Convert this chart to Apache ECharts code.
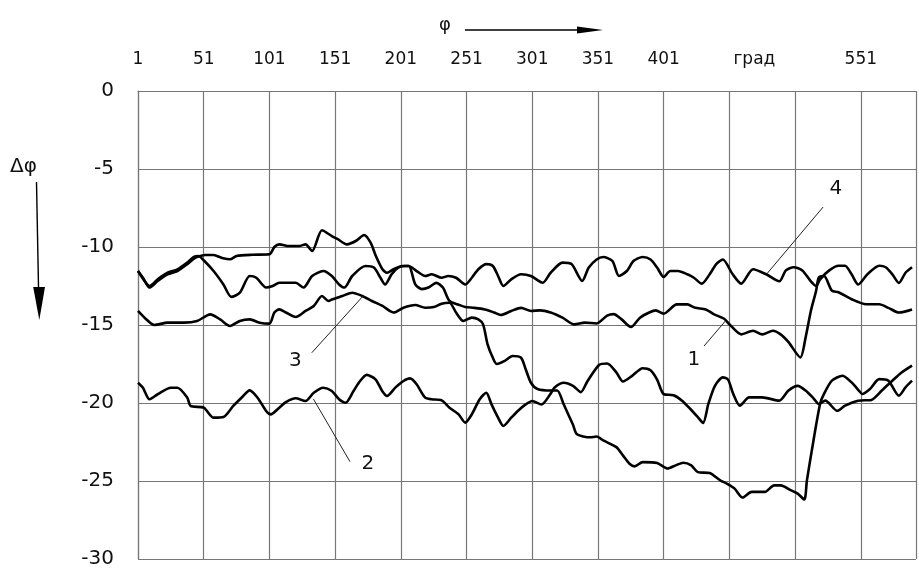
<!DOCTYPE html>
<html>
<head>
<meta charset="utf-8">
<script src="https://cdn.jsdelivr.net/npm/echarts@6/dist/echarts.min.js"></script>
<style>
  html, body { margin: 0; background: #fff; }
  #chart { width: 919px; height: 569px; }
</style>
</head>
<body>
<div id="chart"></div>
<script>
// x: φ, град ; y: Δφ
const xLabelValues = [1, 51, 101, 151, 201, 251, 301, 351, 401, 551];
const unitLabel = 'град'; // stands in place of the 451 label
const unitAt = 451;

const curve1 = [
  [1,-11.54],[4.75,-11.97],[9.75,-12.6],[16,-12.18],[23.5,-11.75],[31,-11.54],[38.5,-11.1],[44.75,-10.68],
  [48.5,-10.58],[52,-10.51],[58.5,-10.51],[65,-10.7],[71,-10.79],[76,-10.58],[88,-10.5],[101,-10.47],
  [104.75,-10.0],[108.5,-9.83],[116,-9.94],[123.5,-9.94],[128.5,-9.83],[133.5,-10.26],[141,-8.93],[148.5,-9.3],
  [153,-9.5],[160,-9.83],[167,-9.6],[173,-9.23],[178,-9.72],[182,-10.58],[187,-11.43],[190.5,-11.65],
  [195.5,-11.43],[202,-11.22],[207,-11.22],[212,-12.4],[217,-12.7],[222,-12.6],[228,-12.3],[233,-12.6],
  [238,-13.46],[245,-13.7],[250,-13.85],[257,-13.9],[265,-14.0],[272,-14.2],[277,-14.36],[285,-14.1],
  [292.5,-13.9],[300,-14.1],[307,-14.06],[315,-14.2],[324,-14.53],[333,-14.96],[341,-14.85],[350,-14.9],
  [358,-14.4],[363,-14.3],[369,-14.64],[376,-15.13],[383,-14.53],[390,-14.2],[395,-14.06],[401,-14.27],
  [411,-13.68],[419,-13.68],[425,-13.9],[433,-14.0],[439,-14.3],[447,-14.6],[451,-14.95],[460,-15.6],
  [469,-15.37],[476,-15.6],[484,-15.37],[490,-15.6],[496,-16.1],[505,-17.08],[509,-15.8],[513,-14.1],
  [517,-12.8],[519,-11.96],[523,-11.86],[529,-12.8],[534,-12.9],[544,-13.35],[555,-13.67],[565,-13.67],
  [572,-13.9],[580,-14.2],[590,-14.0]
];

const curve2 = [
  [1,-18.7],[4.75,-19.02],[9.75,-19.76],[16,-19.44],[26,-19.02],[31,-19.02],[38.5,-19.66],[41,-20.19],
  [51,-20.3],[58.5,-20.94],[66,-20.9],[73.5,-20.19],[79.75,-19.66],[86,-19.19],[92,-19.66],[98.5,-20.51],
  [102,-20.73],[108.5,-20.3],[113.5,-19.94],[121,-19.7],[128.5,-19.87],[134.75,-19.34],[142,-19.02],[148.5,-19.23],
  [154,-19.76],[159,-19.98],[165,-19.23],[170,-18.59],[175,-18.2],[181.7,-18.48],[186.8,-19.23],[190.5,-19.55],
  [197,-19.0],[203,-18.59],[208,-18.42],[213,-18.8],[219.5,-19.66],[224.5,-19.76],[232,-19.83],[238,-20.3],
  [245,-20.73],[250,-21.26],[255,-20.73],[261,-19.76],[266,-19.34],[270,-20.09],[275,-20.94],[279,-21.47],
  [285,-20.94],[290,-20.51],[296,-20.09],[301,-19.87],[308,-20.1],[315,-19.4],[318,-19.0],[325,-18.7],
  [332,-18.9],[338,-19.3],[343,-18.6],[352,-17.55],[358,-17.47],[365,-18.04],[370,-18.62],[377,-18.26],
  [385,-17.77],[391,-17.9],[396,-18.5],[401,-19.43],[408.5,-19.5],[415,-19.85],[422,-20.45],[427,-20.91],
  [431,-21.28],[435,-20.06],[440,-18.9],[446,-18.36],[450,-18.5],[454,-19.43],[459,-20.17],[466,-19.64],
  [476,-19.64],[489,-19.85],[496,-19.2],[503,-18.9],[509,-19.2],[515,-19.7],[519,-20.06],[524,-19.85],
  [533,-20.5],[539,-20.17],[549,-19.85],[559,-19.8],[567,-19.2],[575,-18.57],[582,-18.04],[590,-17.6]
];

const curve3 = [
  [1,-14.1],[6,-14.53],[13.5,-15.0],[23.5,-14.85],[36,-14.85],[46,-14.74],[56,-14.32],[63.5,-14.64],
  [71,-15.06],[78.5,-14.74],[86,-14.64],[93.5,-14.85],[101,-14.91],[104.75,-14.2],[108.5,-14.0],[113.5,-14.2],
  [121,-14.49],[128.5,-14.1],[134.75,-13.78],[141,-13.14],[146,-13.46],[149,-13.35],[156.5,-13.14],[164,-12.93],
  [171.6,-13.14],[179,-13.46],[187,-13.78],[195.6,-14.2],[203,-13.89],[212,-13.72],[219.5,-13.89],[226,-13.85],
  [232,-13.63],[238,-13.57],[243,-14.2],[248.5,-14.74],[255,-14.53],[260,-14.64],[263.6,-14.96],[267,-16.24],
  [271,-17.1],[274,-17.5],[280,-17.3],[286,-16.99],[292.5,-17.1],[296,-17.84],[300,-18.7],[305,-19.1],
  [315,-19.2],[320,-19.2],[325,-20.1],[332,-21.4],[335,-22.0],[345,-22.2],[350,-22.15],[355,-22.4],
  [365,-22.83],[370,-23.36],[375,-23.89],[379,-24.06],[385,-23.79],[396,-23.85],[404,-24.2],[410,-24.0],
  [416,-23.83],[422,-24.0],[427,-24.43],[436,-24.49],[444,-24.96],[449,-25.17],[455,-25.49],[461,-26.06],
  [468,-25.7],[478,-25.7],[485,-25.28],[490,-25.28],[498,-25.6],[503,-25.81],[508,-26.19],[510,-24.96],
  [515,-22.4],[520,-20.06],[523,-19.42],[529,-18.57],[537,-18.25],[544,-18.68],[549.5,-19.2],[552,-19.42],
  [558,-19.1],[565,-18.47],[572,-18.57],[580,-19.53],[585,-19.0],[590,-18.57]
];

const curve4 = [
  [1,-11.54],[6,-12.18],[9.75,-12.5],[16,-12.07],[23.5,-11.65],[31,-11.43],[38.5,-11.0],[43.5,-10.64],
  [47,-10.58],[51,-10.85],[58.5,-11.54],[66,-12.4],[72,-13.2],[78.5,-12.93],[86,-11.86],[91,-11.97],
  [98.5,-12.6],[103.5,-12.5],[108.5,-12.29],[116,-12.29],[121,-12.29],[127,-12.6],[133.5,-11.86],[142,-11.54],
  [148.5,-11.86],[154,-12.4],[158,-12.6],[164,-11.86],[174,-11.22],[180.5,-11.32],[185.5,-11.97],[189,-12.4],
  [194,-11.75],[199,-11.32],[204,-11.22],[207,-11.22],[213,-11.54],[219.5,-11.86],[224.5,-11.75],[232,-11.97],
  [237,-11.86],[243,-11.97],[250,-12.4],[255,-11.97],[260,-11.43],[266,-11.1],[271,-11.22],[275,-11.86],
  [279,-12.5],[285,-12.07],[292.5,-11.75],[300,-11.86],[309,-12.29],[315,-11.65],[324,-11.0],[331,-11.1],
  [339,-12.18],[344,-11.32],[350,-10.8],[355,-10.64],[362,-10.9],[367,-11.86],[373,-11.54],[378,-10.9],
  [385,-10.64],[391,-10.8],[396,-11.32],[401,-11.92],[406,-11.54],[412,-11.54],[419,-11.75],[424,-11.97],
  [430,-12.35],[436,-11.75],[441,-11.1],[446,-10.8],[453.5,-11.75],[460,-12.35],[469,-11.43],[479,-11.75],
  [489,-12.2],[494,-11.5],[500,-11.3],[506.5,-11.5],[513,-12.2],[517,-12.5],[520,-12.07],[527,-11.5],
  [534,-11.2],[539,-11.2],[544,-11.75],[549,-12.4],[556,-11.75],[565,-11.2],[570,-11.3],[575,-11.75],
  [580,-12.3],[585,-11.65],[590,-11.3]
];

// curve numbers with their leader lines, in axis units
const notes = [
  { text: '1', at: [424, -17.2], from: [431.7, -16.35], to: [448, -14.74] },
  { text: '2', at: [176, -23.9], from: [162.3, -23.76], to: [134.5, -19.75] },
  { text: '3', at: [120.7, -17.3], from: [133.2, -16.78], to: [172.3, -13.14] },
  { text: '4', at: [532, -6.24], from: [522.3, -7.44], to: [479.6, -11.71] }
];

const textColor = '#111';
const gridColor = '#777';

const chart = echarts.init(document.getElementById('chart'));

function lineSeries(name, data) {
  return {
    name: name,
    type: 'line',
    data: data,
    symbol: 'none',
    smooth: 0.25,
    lineStyle: { color: '#000', width: 2.6 },
    z: 3
  };
}

chart.setOption({
  animation: false,
  backgroundColor: '#fff',
  grid: { left: 138, right: -3, top: 91, bottom: 8 },
  xAxis: {
    type: 'value',
    position: 'top',
    min: 1,
    max: 593,
    interval: 50,
    axisLine: { show: true, lineStyle: { color: gridColor, width: 1.2 } },
    axisTick: { show: false },
    splitLine: { show: true, lineStyle: { color: gridColor, width: 1.2 } },
    axisLabel: {
      margin: 23,
      color: textColor,
      fontFamily: 'DejaVu Sans',
      fontSize: 17,
      formatter: function (v) {
        if (v === unitAt) return '{g|' + unitLabel + '}';
        return xLabelValues.indexOf(v) >= 0 ? String(v) : '';
      },
      rich: {
        g: { padding: [0, 0, 0, 50], fontFamily: 'DejaVu Sans', fontSize: 17, color: textColor }
      }
    }
  },
  yAxis: {
    type: 'value',
    min: -30,
    max: 0,
    interval: 5,
    axisLine: { show: true, lineStyle: { color: gridColor, width: 1.2 } },
    axisTick: { show: false },
    splitLine: { show: true, lineStyle: { color: gridColor, width: 1.2 } },
    axisLabel: {
      margin: 24,
      color: textColor,
      fontFamily: 'DejaVu Sans',
      fontSize: 20
    }
  },
  series: [
    lineSeries('1', curve1),
    lineSeries('2', curve2),
    lineSeries('3', curve3),
    lineSeries('4', curve4)
  ]
});

// axis captions with arrows, plus curve numbers
const graphics = [
  { type: 'text', left: 439, top: 16, style: { text: 'φ', fill: textColor, font: '18px "DejaVu Sans"' } },
  { type: 'line', shape: { x1: 465, y1: 30, x2: 584, y2: 30 }, style: { stroke: '#000', lineWidth: 1.4 } },
  { type: 'polygon', shape: { points: [[577, 26.5], [603, 30], [577, 33.5]] }, style: { fill: '#000' } },
  { type: 'text', left: 10, top: 157, style: { text: 'Δφ', fill: textColor, font: '20px "DejaVu Sans"' } },
  { type: 'line', shape: { x1: 36.5, y1: 182, x2: 38.6, y2: 292 }, style: { stroke: '#000', lineWidth: 1.4 } },
  { type: 'polygon', shape: { points: [[33.2, 287], [39.3, 320], [45, 287]] }, style: { fill: '#000' } }
];

notes.forEach(function (n) {
  const p = chart.convertToPixel({ gridIndex: 0 }, n.at);
  const a = chart.convertToPixel({ gridIndex: 0 }, n.from);
  const b = chart.convertToPixel({ gridIndex: 0 }, n.to);
  graphics.push({
    type: 'line', z: 10,
    shape: { x1: a[0], y1: a[1], x2: b[0], y2: b[1] },
    style: { stroke: '#222', lineWidth: 1 }
  });
  graphics.push({
    type: 'text', z: 10, x: p[0], y: p[1],
    style: { text: n.text, fill: textColor, font: '20px "DejaVu Sans"', align: 'center', verticalAlign: 'middle' }
  });
});

chart.setOption({ graphic: graphics });
</script>
</body>
</html>
